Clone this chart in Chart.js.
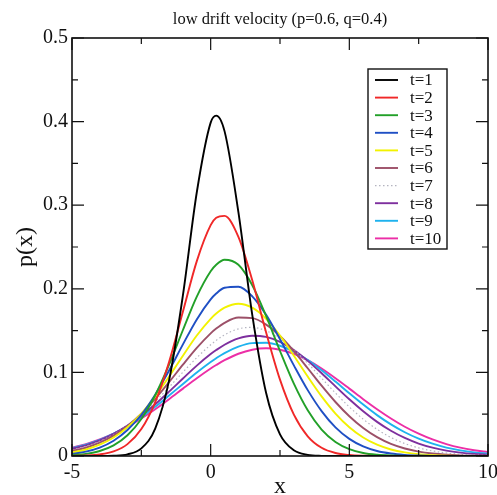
<!DOCTYPE html>
<html>
<head>
<meta charset="utf-8">
<title>low drift velocity</title>
<script src="https://cdn.jsdelivr.net/npm/chart.js@4.4.1/dist/chart.umd.min.js"></script>
<style>
    html, body { margin: 0; padding: 0; background: #ffffff; }
</style>
</head>
<body>
<canvas id="canvas-walk" width="497" height="495"></canvas>
<script>
var xs = [-5, -4.5, -4, -3.5, -3, -2.5, -2, -1.5, -1, -0.5, 0, 0.2, 0.5, 1, 1.5, 2,
          2.5, 3, 3.5, 4, 4.5, 5, 5.5, 6, 6.5, 7, 7.5, 8, 8.5, 9, 9.5, 10];

// p(x) for each time step
var t1 = [0, 0, 0, 0.0003, 0.0020, 0.0091, 0.0327, 0.0904, 0.1924, 0.3155, 0.3988, 0.4072, 0.3886, 0.2918, 0.1689, 0.0753,
          0.0259, 0.0069, 0.0014, 0.0002, 0, 0, 0, 0, 0, 0, 0, 0, 0, 0, 0, 0];
var t2 = [0.0001, 0.0006, 0.0019, 0.0055, 0.0142, 0.0322, 0.0642, 0.1125, 0.1728, 0.2331, 0.2761, 0.2849, 0.2872, 0.2621, 0.2101, 0.1478,
          0.0913, 0.0495, 0.0236, 0.0098, 0.0036, 0.0012, 0.0003, 0.0001, 0, 0, 0, 0, 0, 0, 0, 0];
var t3 = [0.0010, 0.0026, 0.0060, 0.0127, 0.0248, 0.0443, 0.0727, 0.1093, 0.1507, 0.1906, 0.2209, 0.2287, 0.2347, 0.2287, 0.2043, 0.1673,
          0.1256, 0.0865, 0.0546, 0.0316, 0.0168, 0.0082, 0.0036, 0.0015, 0.0006, 0.0002, 0.0001, 0, 0, 0, 0, 0];
var t4 = [0.0025, 0.0053, 0.0101, 0.0183, 0.0311, 0.0493, 0.0734, 0.1022, 0.1335, 0.1634, 0.1873, 0.1943, 0.2012, 0.2025, 0.1910, 0.1688,
          0.1397, 0.1084, 0.0788, 0.0537, 0.0342, 0.0205, 0.0115, 0.0060, 0.0030, 0.0014, 0.0006, 0.0002, 0.0001, 0, 0, 0];
var t5 = [0.0043, 0.0078, 0.0135, 0.0221, 0.0344, 0.0508, 0.0713, 0.0950, 0.1200, 0.1441, 0.1641, 0.1704, 0.1774, 0.1821, 0.1774, 0.1641,
          0.1441, 0.1200, 0.0950, 0.0713, 0.0508, 0.0344, 0.0221, 0.0135, 0.0078, 0.0043, 0.0022, 0.0011, 0.0005, 0.0002, 0.0001, 0];
var t6 = [0.0059, 0.0099, 0.0159, 0.0244, 0.0360, 0.0506, 0.0683, 0.0883, 0.1092, 0.1293, 0.1467, 0.1524, 0.1593, 0.1656, 0.1649, 0.1572,
          0.1435, 0.1254, 0.1050, 0.0841, 0.0646, 0.0475, 0.0334, 0.0225, 0.0145, 0.0090, 0.0053, 0.0030, 0.0016, 0.0008, 0.0004, 0.0002];
var t7 = [0.0073, 0.0115, 0.0176, 0.0258, 0.0364, 0.0496, 0.0651, 0.0823, 0.1003, 0.1176, 0.1330, 0.1383, 0.1449, 0.1521, 0.1538, 0.1498,
          0.1406, 0.1272, 0.1109, 0.0931, 0.0753, 0.0587, 0.0441, 0.0319, 0.0222, 0.0149, 0.0097, 0.0060, 0.0036, 0.0021, 0.0012, 0.0006];
var t8 = [0.0085, 0.0128, 0.0187, 0.0265, 0.0363, 0.0482, 0.0619, 0.0770, 0.0927, 0.1081, 0.1219, 0.1267, 0.1331, 0.1407, 0.1439, 0.1425,
          0.1366, 0.1267, 0.1138, 0.0990, 0.0833, 0.0678, 0.0535, 0.0408, 0.0302, 0.0216, 0.0149, 0.0100, 0.0065, 0.0041, 0.0025, 0.0015];
var t9 = [0.0093, 0.0137, 0.0194, 0.0267, 0.0358, 0.0465, 0.0588, 0.0723, 0.0862, 0.0999, 0.1125, 0.1170, 0.1231, 0.1308, 0.1350, 0.1354,
          0.1319, 0.1248, 0.1148, 0.1025, 0.0890, 0.0750, 0.0615, 0.0489, 0.0378, 0.0284, 0.0207, 0.0147, 0.0101, 0.0068, 0.0044, 0.0028];
var t10 = [0.0100, 0.0143, 0.0198, 0.0267, 0.0350, 0.0449, 0.0560, 0.0680, 0.0806, 0.0930, 0.1046, 0.1088, 0.1146, 0.1223, 0.1271, 0.1288,
           0.1271, 0.1223, 0.1146, 0.1046, 0.0930, 0.0806, 0.0680, 0.0560, 0.0449, 0.0350, 0.0267, 0.0198, 0.0143, 0.0100, 0.0069, 0.0046];

var series = [t1, t2, t3, t4, t5, t6, t7, t8, t9, t10];
var seriesLabels = ['t=1', 't=2', 't=3', 't=4', 't=5', 't=6', 't=7', 't=8', 't=9', 't=10'];
var seriesColors = ['#000000', '#f02828', '#22a028', '#1f4fc4', '#f2f200', '#9c5068', '#b4b4c0', '#7e2f9e', '#1eb2ee', '#ec2ea6'];

var chartTitle = 'low drift velocity (p=0.6, q=0.4)';

// axis ranges and tick steps
var xMin = -5, xMax = 10, xStep = 5;
var yMin = 0, yMax = 0.5, yStep = 0.1;

var serif = "'Liberation Serif', 'DejaVu Serif', serif";

// build the datasets from the arrays above
function buildDatasets() {
    var datasets = [];
    for (var i = 0; i < series.length; i++) {
        var points = [];
        for (var j = 0; j < xs.length; j++) {
            points.push({ x: xs[j], y: series[i][j] });
        }
        datasets.push({
            label: seriesLabels[i],
            data: points,
            borderColor: seriesColors[i],
            borderWidth: i === 6 ? 1.2 : 1.9,
            borderDash: i === 6 ? [1.5, 2.5] : [],
            pointRadius: 0,
            fill: false,
            cubicInterpolationMode: 'monotone'
        });
    }
    return datasets;
}

// frame with inward ticks on all four sides
var frameTicks = {
    id: 'frameTicks',
    afterDatasetsDraw: function(chart) {
        var ctx = chart.ctx;
        var area = chart.chartArea;
        var sx = chart.scales.x;
        var sy = chart.scales.y;
        ctx.save();
        ctx.strokeStyle = '#111';
        ctx.lineWidth = 1.2;
        ctx.beginPath();
        // x ticks every half step
        for (var i = 0; i <= (xMax - xMin) / (xStep / 2); i++) {
            var px = sx.getPixelForValue(xMin + i * xStep / 2);
            var len = (i % 2 === 0) ? 12 : 6;
            ctx.moveTo(px, area.bottom);
            ctx.lineTo(px, area.bottom - len);
            ctx.moveTo(px, area.top);
            ctx.lineTo(px, area.top + len);
        }
        // y ticks every half step
        for (var k = 0; k <= Math.round((yMax - yMin) / (yStep / 2)); k++) {
            var py = sy.getPixelForValue(yMin + k * yStep / 2);
            var ylen = (k % 2 === 0) ? 12 : 6;
            ctx.moveTo(area.left, py);
            ctx.lineTo(area.left + ylen, py);
            ctx.moveTo(area.right, py);
            ctx.lineTo(area.right - ylen, py);
        }
        ctx.stroke();
        ctx.lineWidth = 1.6;
        ctx.strokeRect(area.left, area.top, area.right - area.left, area.bottom - area.top);
        ctx.restore();
    }
};

// title centred over the plot area, not the whole canvas
var plotTitle = {
    id: 'plotTitle',
    afterDraw: function(chart) {
        var ctx = chart.ctx;
        var area = chart.chartArea;
        ctx.save();
        ctx.font = '16.5px ' + serif;
        ctx.fillStyle = '#111';
        ctx.textAlign = 'center';
        ctx.textBaseline = 'alphabetic';
        ctx.fillText(chartTitle, (area.left + area.right) / 2, area.top - 14);
        ctx.restore();
    }
};

// boxed legend inside the plot, upper right
var boxLegend = {
    id: 'boxLegend',
    afterDraw: function(chart) {
        var ctx = chart.ctx;
        var area = chart.chartArea;
        var sets = chart.data.datasets;
        var right = area.right - 41;
        var top = area.top + 31;
        var width = 79;
        var rowH = 17.6;
        var height = 180;
        var left = right - width;
        ctx.save();
        ctx.fillStyle = '#ffffff';
        ctx.fillRect(left, top, width, height);
        ctx.strokeStyle = '#111';
        ctx.lineWidth = 1.4;
        ctx.strokeRect(left, top, width, height);
        ctx.font = '17px ' + serif;
        ctx.textBaseline = 'middle';
        ctx.textAlign = 'left';
        for (var i = 0; i < sets.length; i++) {
            var cy = top + 11 + i * rowH;
            ctx.beginPath();
            ctx.strokeStyle = sets[i].borderColor;
            ctx.lineWidth = sets[i].borderWidth;
            ctx.setLineDash(sets[i].borderDash);
            ctx.moveTo(left + 7, cy);
            ctx.lineTo(left + 30, cy);
            ctx.stroke();
            ctx.setLineDash([]);
            ctx.fillStyle = '#111';
            ctx.fillText(sets[i].label, left + 42, cy + 1);
        }
        ctx.restore();
    }
};

var ctx = document.getElementById('canvas-walk').getContext('2d');
var walkChart = new Chart(ctx, {
    type: 'line',
    data: {
        datasets: buildDatasets()
    },
    options: {
        responsive: false,
        animation: false,
        layout: {
            padding: { left: 0, right: 9, top: 38, bottom: 0 }
        },
        plugins: {
            legend: { display: false },
            tooltip: { enabled: false },
            title: { display: false }
        },
        scales: {
            x: {
                type: 'linear',
                min: xMin,
                max: xMax,
                grid: { display: false, drawTicks: false },
                border: { display: false },
                ticks: {
                    stepSize: xStep,
                    color: '#111',
                    padding: 5,
                    maxRotation: 0,
                    font: { family: serif, size: 20 }
                },
                title: {
                    display: true,
                    text: 'x',
                    color: '#111',
                    font: { family: serif, size: 24, lineHeight: 1 },
                    padding: { top: 0, bottom: -4 }
                },
                afterFit: function(scale) {
                    scale.height = 39;
                    scale.paddingLeft = 0;
                    scale.paddingRight = 0;
                }
            },
            y: {
                type: 'linear',
                min: yMin,
                max: yMax,
                grid: { display: false, drawTicks: false },
                border: { display: false },
                ticks: {
                    stepSize: yStep,
                    color: '#111',
                    padding: 4,
                    font: { family: serif, size: 20 }
                },
                title: {
                    display: true,
                    text: 'p(x)',
                    color: '#111',
                    font: { family: serif, size: 24, lineHeight: 1 },
                    padding: { top: 14 }
                },
                afterFit: function(scale) {
                    scale.width = 72;
                    scale.paddingTop = 0;
                    scale.paddingBottom = 0;
                }
            }
        }
    },
    plugins: [frameTicks, plotTitle, boxLegend]
});
</script>
</body>
</html>
